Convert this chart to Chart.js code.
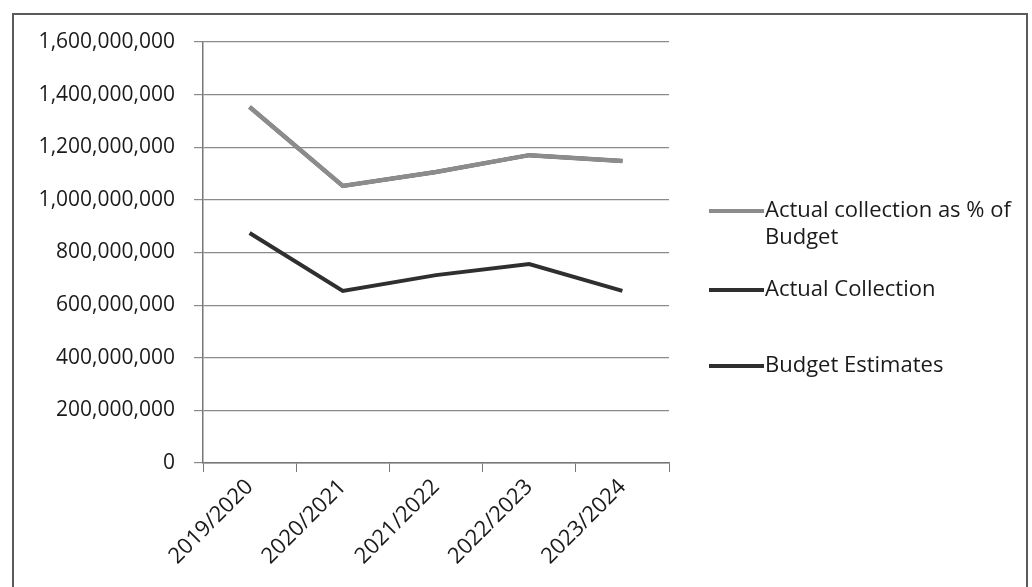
<!DOCTYPE html>
<html>
<head>
<meta charset="utf-8">
<script src="https://cdn.jsdelivr.net/npm/chart.js@4.4.1/dist/chart.umd.min.js"></script>
<style>
    html, body { margin: 0; padding: 0; background: #fff; overflow: hidden; }
    #wrap { position: relative; width: 1032px; height: 587px; }
    #frame { position: absolute; left: 12px; top: 13px; width: 1016px; height: 600px; border: 2px solid #5a5a5a; box-sizing: border-box; }
    canvas { position: absolute; left: 0; top: 0; }
</style>
</head>
<body>
<div id="wrap">
    <div id="frame"></div>
    <canvas id="chart1" width="1032" height="587"></canvas>
</div>
<script>
'use strict'

// years on the category axis
var years = ['2019/2020', '2020/2021', '2021/2022', '2022/2023', '2023/2024'];
// stacked line series (Excel stacked line: budget at bottom)
var budgetEstimates = [874000000, 654000000, 714000000, 756000000, 654000000];
var actualCollection = [479000000, 399000000, 392000000, 414000000, 494000000];
var collectionPct = [55, 61, 55, 55, 76];
var seriesNames = ['Actual collection as % of Budget', 'Actual Collection', 'Budget Estimates'];
var yTicks = [0, 200000000, 400000000, 600000000, 800000000, 1000000000, 1200000000, 1400000000, 1600000000];

var fontFamily = "'Open Sans', 'Noto Sans', sans-serif";
var grey = '#8c8c8c';
var dark = '#2f2f2f';

/* legend drawn on the right, with a wrapped first entry */
var sideLegend = {
    id: 'sideLegend',
    afterDraw: function (chart) {
        var ctx = chart.ctx;
        var items = [
            { lines: ['Actual collection as % of', 'Budget'], color: grey, y: 211 },
            { lines: [seriesNames[1]], color: dark, y: 290 },
            { lines: [seriesNames[2]], color: dark, y: 366 }
        ];
        ctx.save();
        ctx.font = '22px ' + fontFamily;
        ctx.textBaseline = 'middle';
        ctx.fillStyle = '#1a1a1a';
        items.forEach(function (it) {
            ctx.strokeStyle = it.color;
            ctx.lineWidth = 4;
            ctx.beginPath();
            ctx.moveTo(709, it.y);
            ctx.lineTo(764, it.y);
            ctx.stroke();
            it.lines.forEach(function (t, i) {
                ctx.fillText(t, 765, it.y + i * 27);
            });
        });
        ctx.restore();
    }
};

/* % series sits on top of the stack and is painted last, like Excel */
var pctOnTop = {
    id: 'pctOnTop',
    redraw: false,
    beforeDatasetDraw: function (chart, args) {
        if (args.index === 2 && !this.redraw) {
            return false;
        }
    },
    afterDatasetsDraw: function (chart) {
        var meta = chart.getDatasetMeta(2);
        this.redraw = true;
        meta.controller.draw();
        this.redraw = false;
    }
};

var ctx1 = document.getElementById('chart1').getContext('2d');
var chart1 = new Chart(ctx1, {
    type: 'line',
    data: {
        labels: years,
        datasets: [{
            label: seriesNames[2],
            data: budgetEstimates,
            borderColor: dark,
            borderWidth: 4,
            pointRadius: 0,
            tension: 0
        }, {
            label: seriesNames[1],
            data: actualCollection,
            borderColor: dark,
            borderWidth: 4,
            pointRadius: 0,
            tension: 0
        }, {
            label: seriesNames[0],
            data: collectionPct,
            borderColor: grey,
            borderWidth: 4.5,
            pointRadius: 0,
            tension: 0
        }]
    },
    options: {
        responsive: false,
        animation: false,
        layout: {
            padding: { left: 0, right: 363, top: 42, bottom: 0 }
        },
        plugins: {
            legend: { display: false },
            tooltip: { enabled: false }
        },
        scales: {
            x: {
                offset: true,
                grid: {
                    offset: true,
                    drawOnChartArea: false,
                    drawTicks: true,
                    tickLength: 9,
                    color: '#777'
                },
                border: { color: '#777', width: 1.5 },
                ticks: {
                    maxRotation: 45,
                    minRotation: 45,
                    color: '#1a1a1a',
                    font: { family: fontFamily, size: 22 },
                    padding: 2
                },
                afterFit: function (scale) { scale.height = 124; }
            },
            y: {
                stacked: true,
                min: 0,
                max: 1600000000,
                afterBuildTicks: function (scale) {
                    scale.ticks = yTicks.map(function (v) { return { value: v }; });
                },
                grid: {
                    color: '#8a8a8a',
                    lineWidth: 1.2,
                    tickLength: 9
                },
                border: { color: '#777', width: 1.5 },
                ticks: {
                    color: '#1a1a1a',
                    font: { family: fontFamily, size: 21 },
                    padding: 19,
                    callback: function (v) { return v.toLocaleString('en-US'); }
                },
                afterFit: function (scale) { scale.width = 203; }
            }
        }
    },
    plugins: [sideLegend, pctOnTop]
});
</script>
</body>
</html>
